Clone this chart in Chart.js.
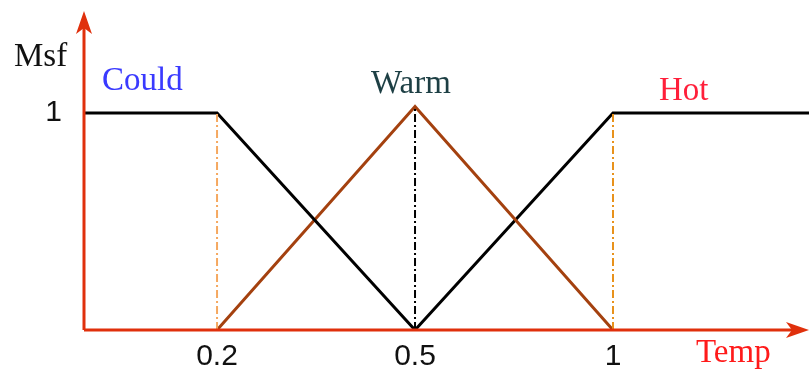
<!DOCTYPE html>
<html>
<head>
<meta charset="utf-8">
<script src="https://cdn.jsdelivr.net/npm/chart.js@4"></script>
<style>
  body { margin: 0; background: #fff; }
  #wrap { width: 809px; height: 372px; }
</style>
</head>
<body>
<div id="wrap"><canvas id="fuzzyChart"></canvas></div>
<script>
// tick positions on the (evenly spaced) temp axis and their labels
const tickPos = [1, 2, 3];
const tickLabels = ['0.2', '0.5', '1'];
const xMin = 0.328;
const xMax = 3.99;

// membership functions
const couldX = [xMin, 1, 2];
const couldY = [1, 1, 0];
const warmX = [1, 2, 3];
const warmY = [0, 1.03, 0];
const hotX = [2, 3, xMax];
const hotY = [0, 1, 1];

// vertical guide lines
const guideX = [1, 2, 3];
const guideTop = [1, 1.03, 1];

const curveNames = ['Could', 'Warm', 'Hot'];

function pts(xs, ys) {
    return xs.map((x, i) => ({ x: x, y: ys[i] }));
}

const axesPlugin = {
    id: 'axesPlugin',
    afterDatasetsDraw(chart) {
        const ctx = chart.ctx;
        const xs = chart.scales.x, ys = chart.scales.y;
        const x0 = xs.getPixelForValue(xMin);
        const y0 = ys.getPixelForValue(0);
        const red = '#e0300c';
        ctx.save();
        ctx.strokeStyle = red;
        ctx.fillStyle = red;
        ctx.lineWidth = 3;
        // y axis
        ctx.beginPath();
        ctx.moveTo(x0, y0);
        ctx.lineTo(x0, 20);
        ctx.stroke();
        ctx.beginPath();
        ctx.moveTo(x0, 11);
        ctx.lineTo(x0 - 8, 34);
        ctx.lineTo(x0, 28);
        ctx.lineTo(x0 + 8, 34);
        ctx.closePath();
        ctx.fill();
        // x axis
        ctx.beginPath();
        ctx.moveTo(x0, y0);
        ctx.lineTo(800, y0);
        ctx.stroke();
        ctx.beginPath();
        ctx.moveTo(809, y0);
        ctx.lineTo(786, y0 - 8);
        ctx.lineTo(792, y0);
        ctx.lineTo(786, y0 + 8);
        ctx.closePath();
        ctx.fill();

        // labels
        ctx.font = '33px "Liberation Serif", serif';
        ctx.textBaseline = 'alphabetic';
        ctx.textAlign = 'left';
        ctx.fillStyle = '#111';
        ctx.fillText('Msf', 14, 66);
        ctx.fillStyle = '#3a3aff';
        ctx.fillText(curveNames[0], 102, 90);
        ctx.fillStyle = '#1d3f44';
        ctx.fillText(curveNames[1], 371, 93);
        ctx.fillStyle = '#ff1f3a';
        ctx.fillText(curveNames[2], 659, 100);
        ctx.fillStyle = '#ff1a1a';
        ctx.fillText('Temp', 696, 362);
        ctx.restore();
    }
};

function renderFuzzyChart() {
    const ctx = document.getElementById('fuzzyChart').getContext('2d');
    new Chart(ctx, {
        type: 'scatter',
        data: {
            datasets: [
                {
                    data: pts([guideX[0], guideX[0]], [0, guideTop[0]]),
                    showLine: true,
                    borderColor: '#f5a860',
                    borderWidth: 2,
                    borderDash: [8, 3, 2, 3],
                    pointRadius: 0
                },
                {
                    data: pts([guideX[1], guideX[1]], [0, guideTop[1]]),
                    showLine: true,
                    borderColor: '#000',
                    borderWidth: 2,
                    borderDash: [8, 3, 2, 3],
                    pointRadius: 0
                },
                {
                    data: pts([guideX[2], guideX[2]], [0, guideTop[2]]),
                    showLine: true,
                    borderColor: '#e8921c',
                    borderWidth: 2,
                    borderDash: [8, 3, 2, 3],
                    pointRadius: 0
                },
                {
                    label: curveNames[0],
                    data: pts(couldX, couldY),
                    showLine: true,
                    borderColor: '#000',
                    borderWidth: 3,
                    pointRadius: 0
                },
                {
                    label: curveNames[1],
                    data: pts(warmX, warmY),
                    showLine: true,
                    borderColor: '#a4410f',
                    borderWidth: 3,
                    pointRadius: 0
                },
                {
                    label: curveNames[2],
                    data: pts(hotX, hotY),
                    showLine: true,
                    borderColor: '#000',
                    borderWidth: 3,
                    pointRadius: 0
                }
            ]
        },
        options: {
            responsive: true,
            maintainAspectRatio: false,
            animation: false,
            layout: { padding: { top: 12, right: 0, left: 0, bottom: 0 } },
            plugins: {
                legend: { display: false },
                tooltip: { enabled: false }
            },
            scales: {
                x: {
                    type: 'linear',
                    min: xMin,
                    max: xMax,
                    grid: { display: false, drawTicks: false },
                    border: { display: false },
                    afterBuildTicks: (s) => { s.ticks = tickPos.map(v => ({ value: v })); },
                    afterFit: (s) => { s.height = 42; },
                    ticks: {
                        padding: 9,
                        color: '#111',
                        font: { family: '"Liberation Sans", Arial', size: 30 },
                        callback: (v) => tickLabels[tickPos.indexOf(v)]
                    }
                },
                y: {
                    min: 0,
                    max: 1.336,
                    grid: { display: false, drawTicks: false },
                    border: { display: false },
                    afterBuildTicks: (s) => { s.ticks = [{ value: 1 }]; },
                    afterFit: (s) => { s.width = 84; },
                    ticks: {
                        padding: 22,
                        color: '#111',
                        font: { family: '"Liberation Sans", Arial', size: 30 },
                        callback: (v) => String(v)
                    }
                }
            }
        },
        plugins: [axesPlugin]
    });
}

document.addEventListener('DOMContentLoaded', () => {
    renderFuzzyChart();
});
</script>
</body>
</html>
